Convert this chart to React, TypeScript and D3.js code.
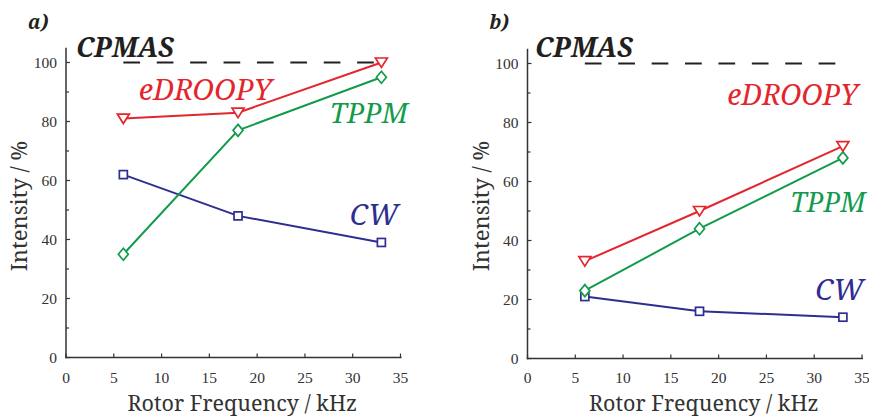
import React from "react";
import * as d3 from "d3";

// Rotor frequencies (kHz) at which intensities were measured
const frequencies = [6, 18, 33];

// Panel a) intensities in %
const aEDroopy = [81, 83, 100];
const aTppm = [35, 77, 95];
const aCw = [62, 48, 39];

// Panel b) intensities in %
const bEDroopy = [33, 50, 72];
const bTppm = [23, 44, 68];
const bCw = [21, 16, 14];

// CPMAS reference level and the frequency span of the dashed line
const cpmasLevel = 100;
const cpmasSpan = [6, 33];

const xTicks = [0, 5, 10, 15, 20, 25, 30, 35];
const yTicks = [0, 20, 40, 60, 80, 100];
const yMinorTicks = [10, 30, 50, 70, 90];

const RED = "#e3262d";
const GREEN = "#129b4c";
const BLUE = "#2d2e8f";
const INK = "#231f20";
const AXIS = "#333333";

const TITLE_FONT = "Noto Serif";
const TICK_FONT = "Liberation Serif";

type Series = { name: string; values: number[]; color: string; marker: "tri" | "diamond" | "square" };

type LabelPos = { name: string; x: number; y: number; color: string; weight: number; size: number };

type PanelCfg = {
  tag: string;
  left: number;
  bottom: number;
  series: Series[];
  labels: LabelPos[];
};

const panels: PanelCfg[] = [
  {
    tag: "a)",
    left: 66,
    bottom: 357.5,
    series: [
      { name: "CW", values: aCw, color: BLUE, marker: "square" },
      { name: "TPPM", values: aTppm, color: GREEN, marker: "diamond" },
      { name: "eDROOPY", values: aEDroopy, color: RED, marker: "tri" },
    ],
    labels: [
      { name: "CPMAS", x: 1.05, y: 101.9, color: INK, weight: 700, size: 27 },
      { name: "eDROOPY", x: 7.6, y: 87.3, color: RED, weight: 400, size: 29 },
      { name: "TPPM", x: 27.6, y: 79.5, color: GREEN, weight: 400, size: 28 },
      { name: "CW", x: 29.7, y: 44.9, color: BLUE, weight: 400, size: 29 },
    ],
  },
  {
    tag: "b)",
    left: 527.5,
    bottom: 358.5,
    series: [
      { name: "CW", values: bCw, color: BLUE, marker: "square" },
      { name: "TPPM", values: bTppm, color: GREEN, marker: "diamond" },
      { name: "eDROOPY", values: bEDroopy, color: RED, marker: "tri" },
    ],
    labels: [
      { name: "CPMAS", x: 0.78, y: 102.2, color: INK, weight: 700, size: 27 },
      { name: "eDROOPY", x: 20.9, y: 85.8, color: RED, weight: 400, size: 28.5 },
      { name: "TPPM", x: 27.5, y: 49.7, color: GREEN, weight: 400, size: 27 },
      { name: "CW", x: 30.1, y: 19.8, color: BLUE, weight: 400, size: 29 },
    ],
  },
];

const PLOT_W = 334.5;
const PX_PER_PCT = 2.95;
const Y_TOP = 105;

function Marker({ kind, x, y, color }: { kind: Series["marker"]; x: number; y: number; color: string }) {
  const common = { fill: "#fff", stroke: color, strokeWidth: 1.7 };
  if (kind === "square") {
    return <rect x={x - 4} y={y - 4} width={8} height={8} {...common} />;
  }
  if (kind === "diamond") {
    return <path d={`M${x},${y - 6}L${x + 5},${y}L${x},${y + 6}L${x - 5},${y}Z`} {...common} />;
  }
  return <path d={`M${x - 6},${y - 4.5}L${x + 6},${y - 4.5}L${x},${y + 5}Z`} {...common} />;
}

function Panel({ cfg }: { cfg: PanelCfg }) {
  const x = d3.scaleLinear().domain([0, 35]).range([cfg.left, cfg.left + PLOT_W]);
  const y = d3
    .scaleLinear()
    .domain([0, Y_TOP])
    .range([cfg.bottom, cfg.bottom - Y_TOP * PX_PER_PCT]);
  const line = d3
    .line<number>()
    .x((_, i) => x(frequencies[i]))
    .y((v) => y(v));

  const x0 = x(0);
  const y0 = y(0);
  const titleX = (x(0) + x(35)) / 2 + 9;

  return (
    <g>
      {/* panel tag */}
      <text
        x={cfg.left - 38}
        y={28.5}
        fontFamily={TITLE_FONT}
        fontStyle="italic"
        fontWeight={700}
        fontSize={19}
        fill={INK}
      >
        {cfg.tag}
      </text>

      {/* axes */}
      <line x1={x0} x2={x0} y1={y(Y_TOP)} y2={y0 + 0.75} stroke={AXIS} strokeWidth={1.5} />
      <line x1={x0 - 0.75} x2={x(35) + 1} y1={y0} y2={y0} stroke={AXIS} strokeWidth={1.5} />

      {xTicks.map((t) => (
        <g key={`xt${t}`}>
          <line x1={x(t)} x2={x(t)} y1={y0} y2={y0 - 4} stroke={AXIS} strokeWidth={1.2} />
          <text x={x(t)} y={383} textAnchor="middle" fontFamily={TICK_FONT} fontSize={15.5} fill={AXIS}>
            {t}
          </text>
        </g>
      ))}
      {yTicks.map((t) => (
        <g key={`yt${t}`}>
          <line x1={x0} x2={x0 + 4} y1={y(t)} y2={y(t)} stroke={AXIS} strokeWidth={1.2} />
          <text
            x={x0 - 9}
            y={y(t)}
            dy="0.35em"
            textAnchor="end"
            fontFamily={TICK_FONT}
            fontSize={15.5}
            fill={AXIS}
          >
            {t}
          </text>
        </g>
      ))}
      {yMinorTicks.map((t) => (
        <line key={`ym${t}`} x1={x0} x2={x0 + 3} y1={y(t)} y2={y(t)} stroke={AXIS} strokeWidth={1.2} />
      ))}

      {/* axis titles */}
      <text x={titleX} y={410.5} textAnchor="middle" fontFamily={TITLE_FONT} fontSize={21.5} fill={AXIS}>
        Rotor Frequency / kHz
      </text>
      <text
        transform={`translate(${cfg.left - 39},206) rotate(-90)`}
        textAnchor="middle"
        fontFamily={TITLE_FONT}
        fontSize={22}
        fill={AXIS}
      >
        Intensity / %
      </text>

      {/* CPMAS reference */}
      <line
        x1={x(cpmasSpan[0])}
        x2={x(cpmasSpan[1])}
        y1={y(cpmasLevel)}
        y2={y(cpmasLevel)}
        stroke={INK}
        strokeWidth={2}
        strokeDasharray="16.7 16.7"
      />

      {/* series */}
      {cfg.series.map((s) => (
        <g key={s.name}>
          <path d={line(s.values) ?? ""} fill="none" stroke={s.color} strokeWidth={2} />
          {s.values.map((v, i) => (
            <Marker key={i} kind={s.marker} x={x(frequencies[i])} y={y(v)} color={s.color} />
          ))}
        </g>
      ))}

      {/* series labels */}
      {cfg.labels.map((l) => (
        <text
          key={l.name}
          x={x(l.x)}
          y={y(l.y)}
          fontFamily={TITLE_FONT}
          fontStyle="italic"
          fontWeight={l.weight}
          fontSize={l.size}
          fill={l.color}
        >
          {l.name}
        </text>
      ))}
    </g>
  );
}

export default function App() {
  return (
    <svg
      width={869}
      height={417}
      viewBox="0 0 869 417"
      style={{ position: "absolute", left: 0, top: 0, background: "#fff" }}
    >
      <rect width={869} height={417} fill="#fff" />
      {panels.map((p) => (
        <Panel key={p.tag} cfg={p} />
      ))}
    </svg>
  );
}
